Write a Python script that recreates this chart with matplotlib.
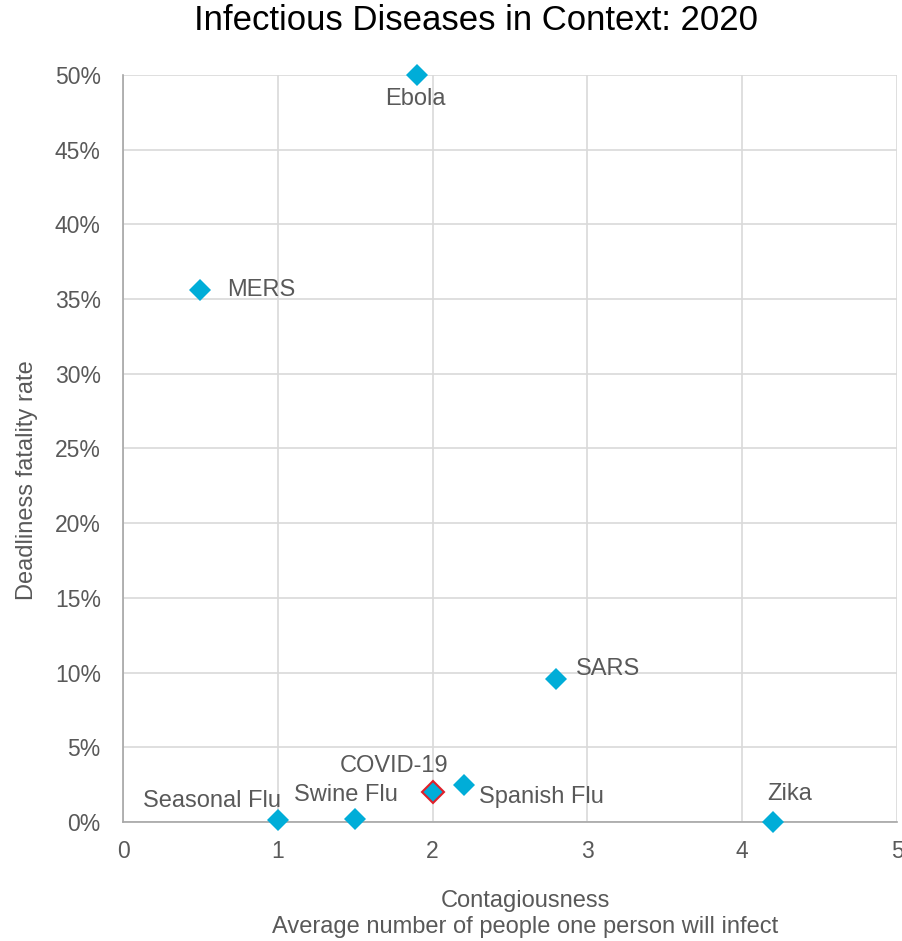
import matplotlib.pyplot as plt
from matplotlib.ticker import PercentFormatter

plt.rcParams['font.family'] = ['Liberation Sans', 'DejaVu Sans']

diseases = ["Ebola", "MERS", "SARS", "COVID-19", "Spanish Flu", "Seasonal Flu", "Swine Flu", "Zika"]
contagiousness = [1.9, 0.5, 2.8, 2.0, 2.2, 1.0, 1.5, 4.2]
fatality = [50.0, 35.6, 9.6, 2.0, 2.5, 0.1, 0.2, 0.0]

# label offsets in points and horizontal alignment for each point
offsets = {
    "Ebola": ((-1, -17), "center"),
    "MERS": ((19, 0), "left"),
    "SARS": ((14, 7), "left"),
    "COVID-19": ((-28, 19), "center"),
    "Spanish Flu": ((11, -9), "left"),
    "Seasonal Flu": ((2, 14), "right"),
    "Swine Flu": ((-7, 17), "center"),
    "Zika": ((12, 20), "center"),
}

blue = "#00ADD8"
grey = "#595959"

fig = plt.figure(figsize=(9.02, 9.41), dpi=100)
ax = fig.add_axes([0.1364, 0.1265, 0.8581, 0.7938])

for name, x, y in zip(diseases, contagiousness, fatality):
    edge = "#E0202A" if name == "COVID-19" else blue
    ax.plot(x, y, marker="D", ms=11.5, color=blue, mec=edge, mew=1.5 if name == "COVID-19" else 0,
            linestyle="none", zorder=3, clip_on=False)
    (dx, dy), ha = offsets[name]
    ax.annotate(name, (x, y), xytext=(dx, dy), textcoords="offset points",
                ha=ha, va="center", fontsize=17, color=grey)

ax.set_xlim(0, 5)
ax.set_ylim(0, 50)
ax.set_xticks(range(6))
ax.set_yticks(range(0, 51, 5))
ax.yaxis.set_major_formatter(PercentFormatter(decimals=0))
ax.tick_params(length=0, labelsize=16.5, colors=grey)
ax.tick_params(axis="y", pad=16)
ax.tick_params(axis="x", pad=13)
ax.grid(True, color="#D9D9D9", linewidth=1.2)
ax.set_axisbelow(True)
for side in ["top", "right"]:
    ax.spines[side].set_visible(False)
for side in ["left", "bottom"]:
    ax.spines[side].set_color("#A6A6A6")
    ax.spines[side].set_linewidth(1.2)

fig.text(476 / 902, 1 - 20 / 941, "Infectious Diseases in Context: 2020",
         ha="center", va="center", fontsize=25, color="black")
fig.text(525 / 902, 1 - 914 / 941, "Contagiousness\nAverage number of people one person will infect",
         ha="center", va="center", fontsize=17, color=grey, linespacing=1.2)
fig.text(27 / 902, 1 - 480 / 941, "Deadliness fatality rate", rotation=90,
         ha="center", va="center", fontsize=17, color=grey)

fig.savefig("out.png", dpi=100)
